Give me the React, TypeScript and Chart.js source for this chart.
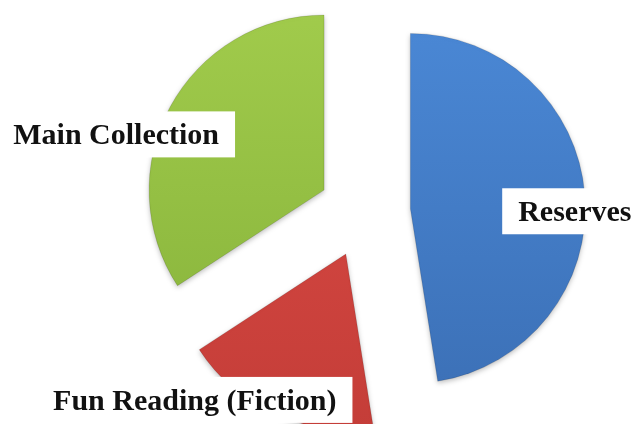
import React, { useEffect, useRef } from "react";
import { Chart, registerables } from "chart.js";

Chart.register(...registerables);

const categories = ["Reserves", "Fun Reading (Fiction)", "Main Collection"];
const shares = [47.5, 18.3, 34.2];

// Gradient colour pairs (top, bottom) per slice
const topColors = ["#4b89d7", "#db4b45", "#a3cd4d"];
const bottomColors = ["#3b6fb5", "#c23c37", "#86b23a"];

// Label placement relative to each exploded slice centre (degrees clockwise from top, fraction of radius)
const labelAngles = [91, 226, 285];
const labelDistances = [0.94, 1.2, 1.23];

const EXPLODE = 46; // pixel explosion distance
const RADIUS = 175;

function sliceShift(arc: any) {
  const p = arc.getProps(["startAngle", "endAngle"], true);
  const half = (p.startAngle + p.endAngle) / 2;
  return { dx: Math.cos(half) * EXPLODE, dy: Math.sin(half) * EXPLODE };
}

const explodePlugin = {
  id: "explode",
  beforeDatasetDraw(chart: any, args: any) {
    const ctx = chart.ctx;
    const meta = args.meta;
    meta.data.forEach((arc: any) => {
      const { dx, dy } = sliceShift(arc);
      ctx.save();
      ctx.shadowColor = "rgba(0,0,0,0.25)";
      ctx.shadowBlur = 5;
      ctx.shadowOffsetY = 2;
      ctx.translate(dx, dy);
      arc.draw(ctx, chart.chartArea);
      ctx.restore();
    });
    return false;
  },
};

const labelPlugin = {
  id: "sliceLabels",
  afterDatasetsDraw(chart: any) {
    const ctx = chart.ctx;
    const meta = chart.getDatasetMeta(0);
    ctx.save();
    ctx.font = 'bold 30px "Liberation Serif", "DejaVu Serif", serif';
    ctx.textBaseline = "middle";
    ctx.textAlign = "center";
    meta.data.forEach((arc: any, i: number) => {
      const p = arc.getProps(["x", "y", "outerRadius"], true);
      const { dx, dy } = sliceShift(arc);
      const cx = p.x + dx;
      const cy = p.y + dy;
      const a = (labelAngles[i] * Math.PI) / 180;
      const d = labelDistances[i] * p.outerRadius;
      const lx = cx + Math.sin(a) * d;
      const ly = cy - Math.cos(a) * d;
      const text = categories[i];
      const w = ctx.measureText(text).width;
      const padX = 16;
      const h = 46;
      ctx.fillStyle = "#ffffff";
      ctx.fillRect(lx - w / 2 - padX, ly - h / 2, w + padX * 2, h);
      ctx.fillStyle = "#111111";
      ctx.fillText(text, lx, ly + 2);
    });
    ctx.restore();
  },
};

export default function App() {
  const ref = useRef<HTMLCanvasElement | null>(null);
  useEffect(() => {
    if (!ref.current) return;
    const chart = new Chart(ref.current, {
      type: "pie",
      data: {
        labels: categories,
        datasets: [
          {
            data: shares,
            backgroundColor: (c: any) => {
              const area = c.chart.chartArea;
              if (!area) return topColors[c.dataIndex];
              const g = c.chart.ctx.createLinearGradient(0, area.top, 0, area.bottom);
              g.addColorStop(0, topColors[c.dataIndex]);
              g.addColorStop(1, bottomColors[c.dataIndex]);
              return g;
            },
            borderWidth: 1,
            borderColor: "rgba(0,0,0,0.12)",
            offset: 0,
          },
        ],
      },
      options: {
        responsive: false,
        animation: false,
        radius: RADIUS,
        layout: { padding: { left: 97, top: 0, right: 0, bottom: 0 } },
        plugins: {
          legend: { display: false },
          tooltip: { enabled: false },
        },
      },
      plugins: [explodePlugin, labelPlugin],
    });
    return () => chart.destroy();
  }, []);
  return (
    <div style={{ position: "fixed", left: 0, top: 0, width: 632, height: 424, background: "#fff" }}>
      <canvas ref={ref} width={632} height={424} style={{ width: 632, height: 424, display: "block" }} />
    </div>
  );
}
